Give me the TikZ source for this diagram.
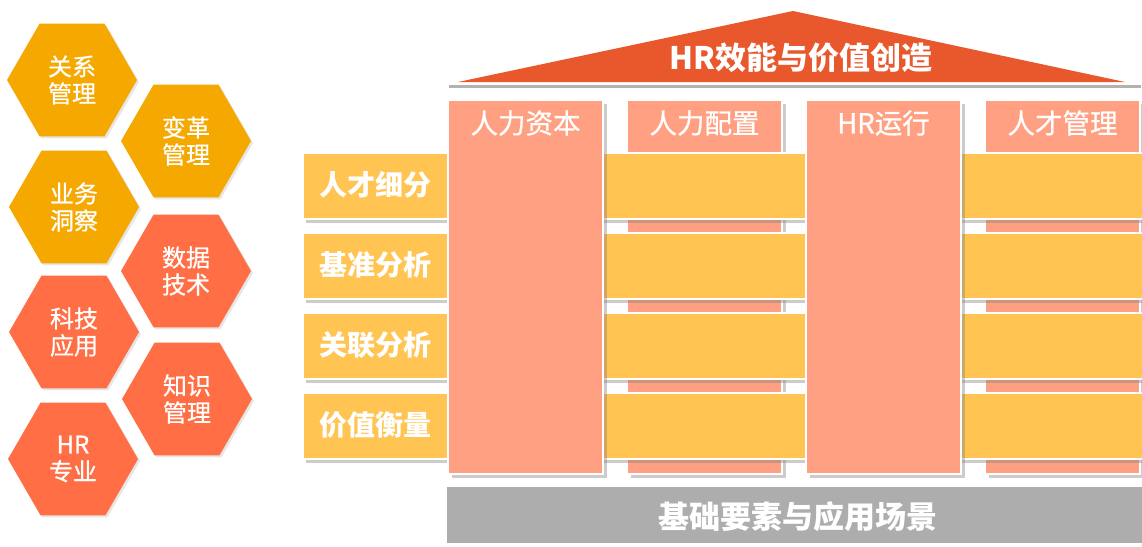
\documentclass[tikz,border=0pt]{standalone}
\usepackage{fontspec}
\setmainfont{Noto Sans CJK SC}
\newfontfamily\medfont{Noto Sans CJK SC}[FakeBold=0.7]
\usetikzlibrary{shapes.geometric,shadows}
\definecolor{hexY}{RGB}{244,168,0}
\definecolor{hexO}{RGB}{255,110,68}
\definecolor{roofC}{RGB}{232,88,44}
\definecolor{colC}{RGB}{255,160,130}
\definecolor{rowC}{RGB}{255,196,82}
\definecolor{baseC}{RGB}{173,173,173}
\begin{document}
\begin{tikzpicture}[x=1pt,y=-1pt,
  hex/.style={regular polygon, regular polygon sides=6, minimum size=130pt, inner sep=0pt,
    text=white, align=center, font=\medfont\fontsize{24}{27}\selectfont,
    drop shadow={shadow xshift=2pt, shadow yshift=-2pt, opacity=0.2}},
  colbox/.style={rectangle, fill=colC, draw=white, line width=2pt, inner sep=0pt,
    minimum width=155pt, minimum height=374pt, anchor=north west,
    drop shadow={shadow xshift=4pt, shadow yshift=-4pt, opacity=0.4}},
  rowbox/.style={rectangle, fill=rowC, draw=white, line width=2pt, inner sep=0pt,
    minimum width=846pt, minimum height=66pt, anchor=north west,
    drop shadow={shadow xshift=3pt, shadow yshift=-4pt, opacity=0.4}},
  rowlabel/.style={text=white, font=\fontsize{28}{32}\selectfont\bfseries},
  headlabel/.style={text=white, font=\medfont\fontsize{27.5}{32}\selectfont},
  biglabel/.style={text=white, font=\fontsize{31}{35}\selectfont\bfseries}
]
\useasboundingbox (0,0) rectangle (1142,546);

% hexagons
\node[hex, fill=hexY] (h1) at (72,80) {关系\\管理};
\node[hex, fill=hexY] (h2) at (186,141) {变革\\管理};
\node[hex, fill=hexY] (h3) at (74,207) {业务\\洞察};
\node[hex, fill=hexO] (h4) at (186,271) {数据\\技术};
\node[hex, fill=hexO] (h5) at (74,332) {科技\\应用};
\node[hex, fill=hexO] (h6) at (187,399) {知识\\管理};
\node[hex, fill=hexO] (h7) at (73,459) {HR\\专业};

% back columns
\node[colbox] (c2) at (626,99) {};
\node[colbox] (c4) at (984,99) {};

% rows
\node[rowbox] (r1) at (302,152) {};
\node[rowbox] (r2) at (302,232) {};
\node[rowbox] (r3) at (302,312) {};
\node[rowbox] (r4) at (302,392) {};

% front columns
\node[colbox] (c1) at (447,99) {};
\node[colbox] (c3) at (805,99) {};

% headers
\node[headlabel] (t1) at (c1.north |- 0,123) {人力资本};
\node[headlabel] (t2) at (c2.north |- 0,123) {人力配置};
\node[headlabel] (t3) at (c3.north |- 0,123) {HR运行};
\node[headlabel] (t4) at (c4.north |- 0,123) {人才管理};

% row labels
\node[rowlabel] (l1) at (375,185) {人才细分};
\node[rowlabel] (l2) at (375,265) {基准分析};
\node[rowlabel] (l3) at (375,345) {关联分析};
\node[rowlabel] (l4) at (375,425) {价值衡量};

% roof
\fill[black, opacity=0.3] (449,85) rectangle (1141,88);
\fill[roofC] (458,82) -- (793,11) -- (1125,82) -- cycle;
\node[biglabel] (title) at (801,58) {HR效能与价值创造};

% base
\node[rectangle, fill=baseC, inner sep=0pt, minimum width=700pt, minimum height=56pt,
  anchor=north west] (base) at (447,487) {};
\node[biglabel] (basetext) at (798,517) {基础要素与应用场景};
\end{tikzpicture}
\end{document}
